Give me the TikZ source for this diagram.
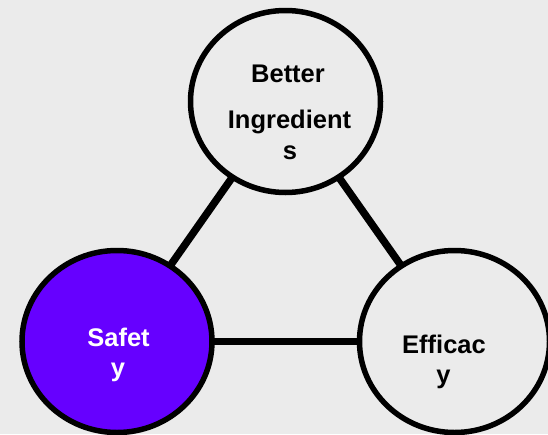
\documentclass[tikz,border=0pt]{standalone}
\usepackage{fontspec}
\setmainfont{Liberation Sans}[Ligatures=NoCommon]
\usetikzlibrary{shapes.geometric,backgrounds}
\definecolor{bgc}{HTML}{EBEBEB}
\definecolor{purp}{HTML}{6600FF}
\tikzset{
  circ/.style={ellipse, draw=black, line width=5.5pt, minimum width=190pt, minimum height=182pt, inner sep=0pt, fill=bgc},
  link/.style={line width=6.5pt, draw=black},
  diag/.style={link, line width=7.5pt},
  lbl/.style={anchor=base, font=\bfseries\fontsize{25.5}{30}\selectfont, inner sep=0pt, text=black},
}
\begin{document}
\begin{tikzpicture}[x=1pt,y=-1pt]
\useasboundingbox (0,0) rectangle (548,434);
\node[circ] (top) at (285.5,101.5) {};
\node[circ, fill=purp] (left) at (117,341.5) {};
\node[circ] (right) at (454.5,341.5) {};
\begin{scope}[on background layer]
  \fill[bgc] (0,0) rectangle (548,434);
  \draw[diag] (top.center) -- (left.center);
  \draw[diag] (top.center) -- (right.center);
  \draw[link] (left.center) -- (right.center);
\end{scope}
\node[lbl] (t1) at (288,82.7) {Better};
\node[lbl] (t2) at (289.5,128.3) {Ingredient};
\node[lbl] (t3) at (290,159.5) {s};
\node[lbl, text=white] (l1) at (118.5,346.7) {Safet};
\node[lbl, text=white] (l2) at (118,376.5) {y};
\node[lbl] (r1) at (444,353.3) {Efficac};
\node[lbl] (r2) at (443.5,383.5) {y};
\end{tikzpicture}
\end{document}
